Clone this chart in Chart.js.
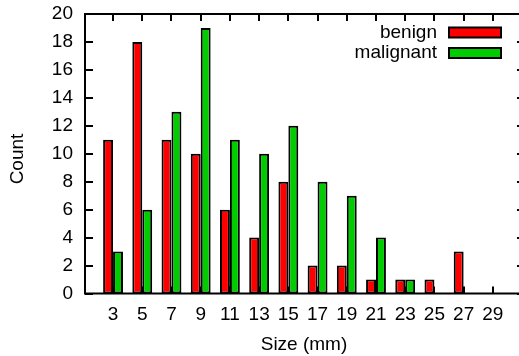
<!DOCTYPE html>
<html>
<head>
<meta charset="utf-8">
<script src="https://cdn.jsdelivr.net/npm/chart.js@4"></script>
<style>
  html, body { margin: 0; padding: 0; background: #fff; overflow: hidden; }
  #wrap { width: 519px; height: 356px; overflow: hidden; }
</style>
</head>
<body>
<div id="wrap"><canvas id="chart" width="530" height="356"></canvas></div>
<script>
const sizes = [3, 5, 7, 9, 11, 13, 15, 17, 19, 21, 23, 25, 27, 29];
const benign = [11, 18, 11, 10, 6, 4, 8, 2, 2, 1, 1, 1, 3, 0];
const malignant = [3, 6, 13, 19, 11, 10, 12, 8, 7, 4, 1, 0, 0, 0];
const yTicks = [0, 2, 4, 6, 8, 10, 12, 14, 16, 18, 20];

const FONT = "'Liberation Sans', Arial, sans-serif";

// gnuplot-like frame, inward ticks, legend and axis titles
const gnuplotFrame = {
  id: "gnuplotFrame",
  afterDatasetsDraw(chart) {
    const { ctx, chartArea: a, scales } = chart;
    ctx.save();
    ctx.strokeStyle = "#000";
    ctx.lineWidth = 2;
    ctx.strokeRect(a.left, a.top, a.right - a.left, a.bottom - a.top);
    ctx.beginPath();
    sizes.forEach((s) => {
      const x = Math.round(scales.x.getPixelForValue(s));
      ctx.moveTo(x, a.top);
      ctx.lineTo(x, a.top + 7);
      ctx.moveTo(x, a.bottom);
      ctx.lineTo(x, a.bottom - 7);
    });
    yTicks.forEach((v) => {
      const y = Math.round(scales.y.getPixelForValue(v));
      ctx.moveTo(a.left, y);
      ctx.lineTo(a.left + 8, y);
      ctx.moveTo(a.right, y);
      ctx.lineTo(a.right - 8, y);
    });
    ctx.stroke();

    // legend
    ctx.font = "19px " + FONT;
    ctx.textAlign = "right";
    ctx.textBaseline = "middle";
    chart.data.datasets.forEach((ds, i) => {
      const y = 32.5 + i * 20.5;
      ctx.fillStyle = "#000";
      ctx.fillText(ds.label, 437, y);
      ctx.fillStyle = ds.backgroundColor;
      ctx.fillRect(449, y - 5, 52, 10);
      ctx.lineWidth = 2;
      ctx.strokeRect(449, y - 5, 52, 10);
    });

    // axis titles
    ctx.fillStyle = "#000";
    ctx.textAlign = "center";
    ctx.fillText("Size (mm)", 304, 345);
    ctx.translate(18, 159);
    ctx.rotate(-Math.PI / 2);
    ctx.fillText("Count", 0, 0);
    ctx.restore();
  },
};

const ctx = document.getElementById("chart").getContext("2d");
const chart = new Chart(ctx, {
  type: "bar",
  data: {
    datasets: [
      {
        label: "benign",
        data: sizes.map((s, i) => ({ x: s, y: benign[i] })),
        backgroundColor: "#ff0000",
        borderColor: "#000",
        borderWidth: 2,
        borderSkipped: false,
      },
      {
        label: "malignant",
        data: sizes.map((s, i) => ({ x: s, y: malignant[i] })),
        backgroundColor: "#00cc00",
        borderColor: "#000",
        borderWidth: 2,
        borderSkipped: false,
      },
    ],
  },
  options: {
    responsive: false,
    animation: false,
    layout: { padding: { top: 14, right: 5, left: 0, bottom: 0 } },
    datasets: { bar: { categoryPercentage: 0.68, barPercentage: 1 } },
    scales: {
      x: {
        type: "linear",
        offset: false,
        min: 1.08,
        max: 31.2,
        grid: { display: false, drawTicks: false, offset: false },
        border: { display: false },
        afterBuildTicks: (s) => { s.ticks = sizes.map((v) => ({ value: v })); },
        afterFit: (s) => { s.height = 62.5; s.paddingLeft = 0; s.paddingRight = 0; },
        ticks: { color: "#000", font: { size: 19, family: FONT }, padding: 10, maxRotation: 0, autoSkip: false },
      },
      y: {
        min: 0,
        max: 20,
        grid: { display: false, drawTicks: false },
        border: { display: false },
        afterBuildTicks: (s) => { s.ticks = yTicks.map((v) => ({ value: v })); },
        afterFit: (s) => { s.width = 85; s.paddingTop = 0; s.paddingBottom = 0; },
        ticks: { color: "#000", font: { size: 19, family: FONT }, padding: 12 },
      },
    },
    plugins: {
      legend: { display: false },
      tooltip: { enabled: false },
    },
  },
  plugins: [gnuplotFrame],
});
</script>
</body>
</html>
